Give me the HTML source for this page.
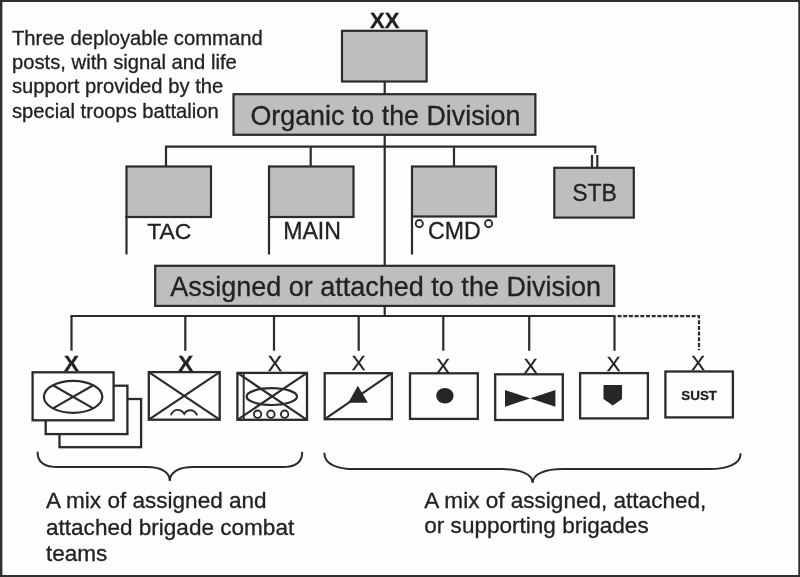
<!DOCTYPE html>
<html>
<head>
<meta charset="utf-8">
<title>Division organization</title>
<style>
  html, body { margin: 0; padding: 0; background: #ffffff; }
  body { width: 800px; height: 577px; overflow: hidden; font-family: "Liberation Sans", sans-serif; }
  svg { display: block; will-change: transform; filter: grayscale(1); }
  text { font-family: "Liberation Sans", sans-serif; fill: #222222; stroke: #222222; stroke-width: 0.3px; }
  .b { font-weight: bold; }
  .ln { stroke: #2b2b2b; stroke-width: 2.2; fill: none; }
  .gb { stroke: #2b2b2b; stroke-width: 2.2; fill: #bebebe; }
  .wb { stroke: #2b2b2b; stroke-width: 2.3; fill: #fdfdfd; }
  .gl { stroke: #2b2b2b; stroke-width: 1.9; fill: none; }
  .th { stroke: #2b2b2b; stroke-width: 1.6; fill: none; }
  .br { stroke: #2b2b2b; stroke-width: 2; fill: none; stroke-linecap: round; }
  .sol { fill: #262626; stroke: none; }
</style>
</head>
<body>
<svg width="800" height="577" viewBox="0 0 800 577">
  <!-- page background + outer frame -->
  <rect x="0" y="0" width="800" height="577" fill="#ffffff"/>
  <rect x="0" y="0" width="800" height="577" fill="#fdfdfd"/>
  <path d="M0 0 H800 V577 H0 Z M2.4 1.9 V575.1 H798.3 V1.9 Z" fill="#303030" fill-rule="evenodd"/>

  <!-- note text top-left -->
  <g font-size="20.23">
    <text x="12" y="45">Three deployable command</text>
    <text x="12" y="69.25">posts, with signal and life</text>
    <text x="12" y="93.4">support provided by the</text>
    <text x="12" y="117.6">special troops battalion</text>
  </g>

  <!-- central trunk -->
  <line class="ln" x1="384.7" y1="82" x2="384.7" y2="316"/>

  <!-- top division box -->
  <text class="b" x="384.7" y="28.2" font-size="22" text-anchor="middle">XX</text>
  <rect class="gb" x="342" y="30.8" width="84.6" height="50.7"/>

  <!-- Organic banner -->
  <rect class="gb" x="233.5" y="94.2" width="301.9" height="40.6"/>
  <text x="250.4" y="124.7" font-size="26.85">Organic to the Division</text>

  <!-- organic bus -->
  <path class="ln" d="M166 166 V146.7 H595.3 V153.5"/>
  <line class="ln" x1="310.7" y1="146.7" x2="310.7" y2="166"/>
  <line class="ln" x1="454" y1="146.7" x2="454" y2="166"/>
  <line class="ln" x1="592" y1="155" x2="592" y2="167"/>
  <line class="ln" x1="597.3" y1="155" x2="597.3" y2="167"/>

  <!-- TAC -->
  <rect class="gb" x="126.5" y="166.5" width="84.5" height="50.5"/>
  <line class="ln" x1="126.5" y1="216" x2="126.5" y2="254.5"/>
  <text x="147.2" y="239" font-size="22.9">TAC</text>

  <!-- MAIN -->
  <rect class="gb" x="269" y="166.5" width="84.5" height="50.5"/>
  <line class="ln" x1="269" y1="216" x2="269" y2="254.5"/>
  <text x="283.2" y="239" font-size="23.1">MAIN</text>

  <!-- CMD -->
  <rect class="gb" x="412" y="166.5" width="84" height="50"/>
  <line class="ln" x1="412" y1="216" x2="412" y2="254.5"/>
  <text x="428" y="239" font-size="23.1">CMD</text>
  <circle class="gl" cx="419.3" cy="223.6" r="3.6" stroke-width="2.2"/>
  <circle class="gl" cx="488.6" cy="223.6" r="3.6" stroke-width="2.2"/>

  <!-- STB -->
  <rect class="gb" x="554.3" y="167.8" width="79.5" height="49.8"/>
  <text x="572.2" y="200.7" font-size="23">STB</text>

  <!-- Assigned banner -->
  <rect class="gb" x="155.2" y="265.8" width="459" height="40.1"/>
  <text x="170.2" y="295.7" font-size="27">Assigned or attached to the Division</text>

  <!-- assigned bus -->
  <line class="ln" x1="70.5" y1="316" x2="615.5" y2="316"/>
  <line class="ln" x1="71.5" y1="316" x2="71.5" y2="350.7"/>
  <line class="ln" x1="185.3" y1="316" x2="185.3" y2="350.7"/>
  <line class="ln" x1="274" y1="316" x2="274" y2="350.7"/>
  <line class="ln" x1="358.7" y1="316" x2="358.7" y2="350.7"/>
  <line class="ln" x1="443.3" y1="316" x2="443.3" y2="350.7"/>
  <line class="ln" x1="529.2" y1="316" x2="529.2" y2="350.7"/>
  <line class="ln" x1="614.5" y1="316" x2="614.5" y2="350.7"/>
  <path class="ln" d="M617.5 316.2 H699 V350.3" stroke-width="1.8" stroke-dasharray="4 1.7"/>

  <!-- 1: armored BCT stack -->
  <rect class="wb" x="59.5" y="399" width="81.6" height="48.2"/>
  <rect class="wb" x="45.7" y="385.7" width="81.7" height="48.4"/>
  <rect class="wb" x="32.6" y="372.3" width="81" height="48"/>
  <ellipse class="ln" cx="73.1" cy="396.8" rx="29.2" ry="16"/>
  <path class="ln" d="M53 385.2 L93.2 408.4 M53 408.4 L93.2 385.2"/>
  <text class="b" x="71.4" y="371.4" font-size="22.4" text-anchor="middle">X</text>

  <!-- 2: infantry BCT (airborne gull) -->
  <rect class="wb" x="148.8" y="372.1" width="70.9" height="47.6"/>
  <path class="ln" d="M148.8 372.1 L219.7 419.7 M148.8 419.7 L219.7 372.1"/>
  <path class="gl" d="M170.8 415.1 C172.6 411.3 174.8 409.9 177.4 409.9 C180.4 409.9 182.6 411 184.2 413.9 C185.8 411.2 187.8 410.3 190.3 410.3 C193.2 410.3 195.4 411.8 197.2 415.3"/>
  <text class="b" x="185.8" y="371.4" font-size="22.4" text-anchor="middle">X</text>

  <!-- 3: Stryker BCT -->
  <rect class="wb" x="237.4" y="372.9" width="69.6" height="46.9"/>
  <line class="gl" x1="243.7" y1="373" x2="243.7" y2="420"/>
  <path class="ln" d="M237.4 372.9 L307 419.8 M237.4 419.8 L307 372.9"/>
  <ellipse class="ln" cx="271.8" cy="396.6" rx="25.2" ry="8.4"/>
  <circle class="gl" cx="257.6" cy="414.2" r="3.7" stroke-width="2.1"/>
  <circle class="gl" cx="270.9" cy="414.2" r="3.7" stroke-width="2.1"/>
  <circle class="gl" cx="284.6" cy="414.2" r="3.7" stroke-width="2.1"/>
  <text x="274.8" y="371.2" font-size="21.5" text-anchor="middle">X</text>

  <!-- 4: diagonal with triangle -->
  <rect class="wb" x="324.7" y="373.2" width="67.2" height="46"/>
  <line class="ln" x1="324.7" y1="419.2" x2="391.9" y2="373.2"/>
  <path class="sol" d="M357.8 385.8 L367.9 402.7 L348.3 402.7 Z"/>
  <text x="358.5" y="370.4" font-size="20.5" text-anchor="middle">X</text>

  <!-- 5: fires (dot) -->
  <rect class="wb" x="410" y="373.3" width="67.8" height="45.6"/>
  <ellipse class="sol" cx="444.9" cy="395.8" rx="8.7" ry="7.7"/>
  <text x="443.2" y="372.6" font-size="20.5" text-anchor="middle">X</text>

  <!-- 6: bowtie -->
  <rect class="wb" x="495.2" y="374.3" width="67.6" height="45.7"/>
  <path class="sol" d="M505 390 L555.4 406.8 L555.4 390 L505 406.8 Z"/>
  <text x="530.5" y="373.4" font-size="20.5" text-anchor="middle">X</text>

  <!-- 7: shield -->
  <rect class="wb" x="580.1" y="373.1" width="67.8" height="45.3"/>
  <path class="sol" d="M603.5 385 H622 V399 L612.8 405.4 L603.5 399 Z"/>
  <text x="613.7" y="371.1" font-size="20.5" text-anchor="middle">X</text>

  <!-- 8: SUST -->
  <rect class="wb" x="665.4" y="371.5" width="67.5" height="45.9"/>
  <text class="b" x="699.2" y="399.5" font-size="13.4" text-anchor="middle">SUST</text>
  <text x="698" y="369.6" font-size="20.5" text-anchor="middle">X</text>

  <!-- braces -->
  <path class="br" d="M37.6 452.4 C37.6 462 45 467 58 467 H147 C161 467 169.6 472 169.8 481 C170 472 179 467 193 467 H282 C295 467 302.2 462 302.2 452.4"/>
  <path class="br" d="M324.4 453.5 C324.4 463.5 336 469.1 355 469.1 H502 C520 469.1 532.4 474 532.6 482.9 C532.8 474 545 469.1 563 469.1 H709 C728 469.1 740.5 463.5 740.5 453.9"/>

  <!-- bottom captions -->
  <g font-size="22.55">
    <text x="46" y="508">A mix of assigned and</text>
    <text x="46" y="534.7">attached brigade combat</text>
    <text x="46" y="561.4">teams</text>
    <text x="424.3" y="508">A mix of assigned, attached,</text>
    <text x="424.3" y="533">or supporting brigades</text>
  </g>
</svg>
</body>
</html>
